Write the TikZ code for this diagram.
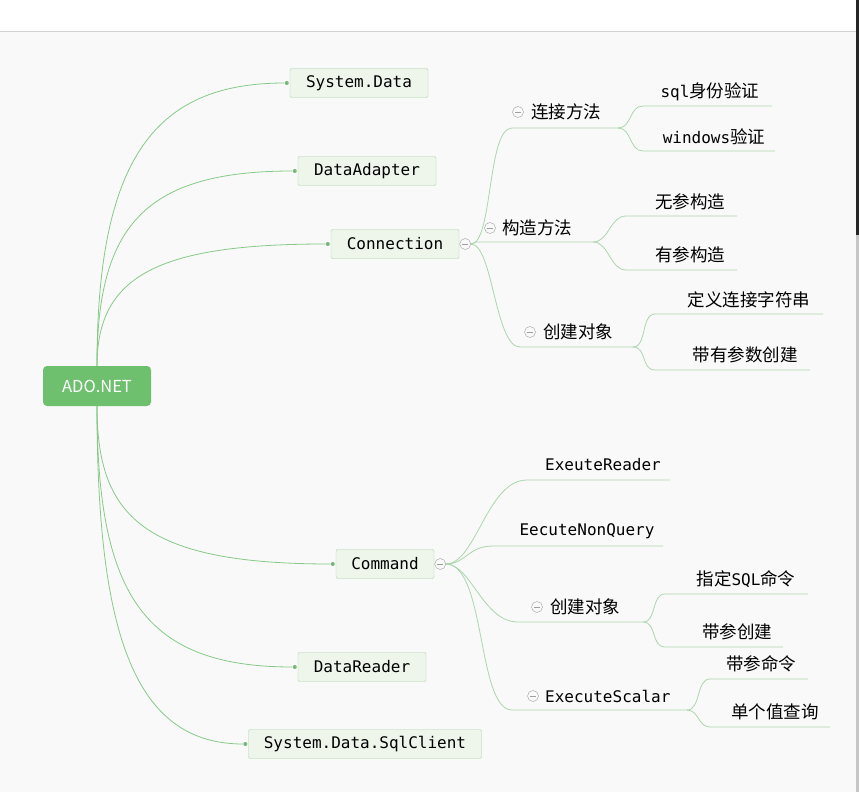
\documentclass[tikz,border=0pt]{standalone}
\usepackage{fontspec}
\setmainfont{DejaVu Sans Mono}
\newfontfamily\cjk{Noto Sans CJK SC}
\newcommand\zh[1]{{\cjk\fontsize{17.5}{20}\selectfont #1}}

\definecolor{bg}{RGB}{249,249,249}
\definecolor{rootfill}{RGB}{110,191,110}
\definecolor{boxfill}{RGB}{238,246,236}
\definecolor{boxline}{RGB}{170,210,166}
\definecolor{maingreen}{RGB}{135,202,135}
\definecolor{subgreen}{RGB}{172,214,172}

\tikzset{
  root/.style={fill=rootfill, rounded corners=4pt, minimum width=108pt, minimum height=40pt,
    inner sep=0pt, text=white, font=\cjk\fontsize{16.5}{18}\selectfont},
  topic/.style={draw=boxline, fill=boxfill, rounded corners=2pt, minimum height=29pt,
    inner sep=0pt, font=\fontsize{16}{18}\selectfont},
  leaf/.style={inner sep=0pt, font=\fontsize{16}{18}\selectfont},
  fold/.style={circle, draw=gray!75, fill=bg, minimum size=11pt, inner sep=0pt,
    path picture={\draw[gray!75] ([xshift=2.5pt]path picture bounding box.west)
      -- ([xshift=-2.5pt]path picture bounding box.east);}},
  knot/.style={circle, fill=maingreen!90!black, minimum size=4pt, inner sep=0pt},
  trunk/.style={draw=maingreen, line width=0.8pt},
  twig/.style={draw=subgreen, line width=0.8pt}
}

\begin{document}
\begin{tikzpicture}[x=1pt,y=-1pt]
    \useasboundingbox (0,0) rectangle (859,792);
    \fill[white] (0,0) rectangle (859,31);
    \fill[bg] (0,31) rectangle (859,792);
    \draw[gray!35] (0,31) -- (859,31);
    \fill[black!85] (856,0) rectangle (859,235);
    \fill[gray!45] (856,235) rectangle (859,792);

    % root and first level
    \node[root] (ado) at (97,386) {ADO.NET};
    \node[topic, minimum width=138pt] (sysdata) at (359,83) {System.Data};
    \node[topic, minimum width=138pt] (adapter) at (367,171) {DataAdapter};
    \node[topic, minimum width=128pt] (conn) at (395,244) {Connection};
    \node[topic, minimum width=98pt] (cmd) at (385,564) {Command};
    \node[topic, minimum width=128pt] (reader) at (362,667) {DataReader};
    \node[topic, minimum width=233pt] (sqlclient) at (365,744) {System.Data.SqlClient};

    \node[knot] (sysdatain) at ([xshift=-3pt]sysdata.west) {};
    \node[knot] (adapterin) at ([xshift=-3pt]adapter.west) {};
    \node[knot] (connin) at ([xshift=-3pt]conn.west) {};
    \node[knot] (cmdin) at ([xshift=-3pt]cmd.west) {};
    \node[knot] (readerin) at ([xshift=-3pt]reader.west) {};
    \node[knot] (sqlclientin) at ([xshift=-3pt]sqlclient.west) {};

    \draw[trunk] (ado.north) .. controls +(0,-210) and +(-130,0) .. (sysdatain);
    \draw[trunk] (ado.north) .. controls +(0,-140) and +(-150,0) .. (adapterin);
    \draw[trunk] (ado.north) .. controls +(0,-90) and +(-170,0) .. (connin);
    \draw[trunk] (ado.south) .. controls +(0,110) and +(-190,0) .. (cmdin);
    \draw[trunk] (ado.south) .. controls +(0,190) and +(-150,0) .. (readerin);
    \draw[trunk] (ado.south) .. controls +(0,230) and +(-110,0) .. (sqlclientin);

    \node[fold] (connfold) at ([xshift=6pt]conn.east) {};
    \node[fold] (cmdfold) at ([xshift=6pt]cmd.east) {};

    % Connection
    \node[fold] (ljfold) at (518,112) {};
    \node[leaf, anchor=west] (lj) at (531,112) {\zh{连接方法}};
    \coordinate (lja) at (512,128); \coordinate (ljb) at (618,128);
    \draw[twig] (connfold.east) .. controls +(22,0) and +(-25,0) .. (lja) -- (ljb);

    \node[fold] (gzfold) at (490,228) {};
    \node[leaf, anchor=west] (gz) at (502,228) {\zh{构造方法}};
    \coordinate (gza) at (476,242); \coordinate (gzb) at (593,242);
    \draw[twig] (connfold.east) -- (gza) -- (gzb);

    \node[fold] (cjfold) at (530,332) {};
    \node[leaf, anchor=west] (cj) at (543,332) {\zh{创建对象}};
    \coordinate (cja) at (520,347); \coordinate (cjb) at (633,347);
    \draw[twig] (connfold.east) .. controls +(22,0) and +(-25,0) .. (cja) -- (cjb);

    \node[leaf] (sqlauth) at (710,92) {sql\zh{身份验证}};
    \coordinate (sqlautha) at (643,106); \coordinate (sqlauthb) at (772,106);
    \draw[twig] (ljb) .. controls +(14,0) and +(-14,0) .. (sqlautha) -- (sqlauthb);
    \node[leaf] (winauth) at (714,137) {windows\zh{验证}};
    \coordinate (winautha) at (643,151); \coordinate (winauthb) at (775,151);
    \draw[twig] (ljb) .. controls +(14,0) and +(-14,0) .. (winautha) -- (winauthb);

    \node[leaf] (nopar) at (690,202) {\zh{无参构造}};
    \coordinate (nopara) at (626,216); \coordinate (noparb) at (737,216);
    \draw[twig] (gzb) .. controls +(16,0) and +(-16,0) .. (nopara) -- (noparb);
    \node[leaf] (withpar) at (690,255) {\zh{有参构造}};
    \coordinate (withpara) at (626,270); \coordinate (withparb) at (737,270);
    \draw[twig] (gzb) .. controls +(16,0) and +(-16,0) .. (withpara) -- (withparb);

    \node[leaf] (connstr) at (749,300) {\zh{定义连接字符串}};
    \coordinate (connstra) at (655,314); \coordinate (connstrb) at (823,314);
    \draw[twig] (cjb) .. controls +(14,0) and +(-14,0) .. (connstra) -- (connstrb);
    \node[leaf] (parnew) at (745,355) {\zh{带有参数创建}};
    \coordinate (parnewa) at (655,370); \coordinate (parnewb) at (810,370);
    \draw[twig] (cjb) .. controls +(14,0) and +(-14,0) .. (parnewa) -- (parnewb);

    % Command
    \node[leaf] (exreader) at (603,465) {ExeuteReader};
    \coordinate (exreadera) at (527,480); \coordinate (exreaderb) at (670,480);
    \draw[twig] (cmdfold.east) .. controls +(30,0) and +(-40,0) .. (exreadera) -- (exreaderb);

    \node[leaf] (exnq) at (587,531) {EecuteNonQuery};
    \coordinate (exnqa) at (493,546); \coordinate (exnqb) at (663,546);
    \draw[twig] (cmdfold.east) .. controls +(20,0) and +(-25,0) .. (exnqa) -- (exnqb);

    \node[fold] (cmdcjfold) at (537,607) {};
    \node[leaf, anchor=west] (cmdcj) at (550,607) {\zh{创建对象}};
    \coordinate (cmdcja) at (518,622); \coordinate (cmdcjb) at (643,622);
    \draw[twig] (cmdfold.east) .. controls +(25,0) and +(-35,0) .. (cmdcja) -- (cmdcjb);

    \node[fold] (scalarfold) at (533,696) {};
    \node[leaf, anchor=west] (scalar) at (545,696) {ExecuteScalar};
    \coordinate (scalara) at (512,710); \coordinate (scalarb) at (687,710);
    \draw[twig] (cmdfold.east) .. controls +(40,0) and +(-35,0) .. (scalara) -- (scalarb);

    \node[leaf] (sqlcmd) at (746,579) {\zh{指定}SQL\zh{命令}};
    \coordinate (sqlcmda) at (665,594); \coordinate (sqlcmdb) at (808,594);
    \draw[twig] (cmdcjb) .. controls +(14,0) and +(-14,0) .. (sqlcmda) -- (sqlcmdb);
    \node[leaf] (parcj) at (737,632) {\zh{带参创建}};
    \coordinate (parcja) at (665,647); \coordinate (parcjb) at (783,647);
    \draw[twig] (cmdcjb) .. controls +(14,0) and +(-14,0) .. (parcja) -- (parcjb);

    \node[leaf] (parcmd) at (761,664) {\zh{带参命令}};
    \coordinate (parcmda) at (710,679); \coordinate (parcmdb) at (808,679);
    \draw[twig] (scalarb) .. controls +(14,0) and +(-14,0) .. (parcmda) -- (parcmdb);
    \node[leaf] (single) at (775,712) {\zh{单个值查询}};
    \coordinate (singlea) at (710,727); \coordinate (singleb) at (830,727);
    \draw[twig] (scalarb) .. controls +(12,0) and +(-12,0) .. (singlea) -- (singleb);
\end{tikzpicture}
\end{document}
